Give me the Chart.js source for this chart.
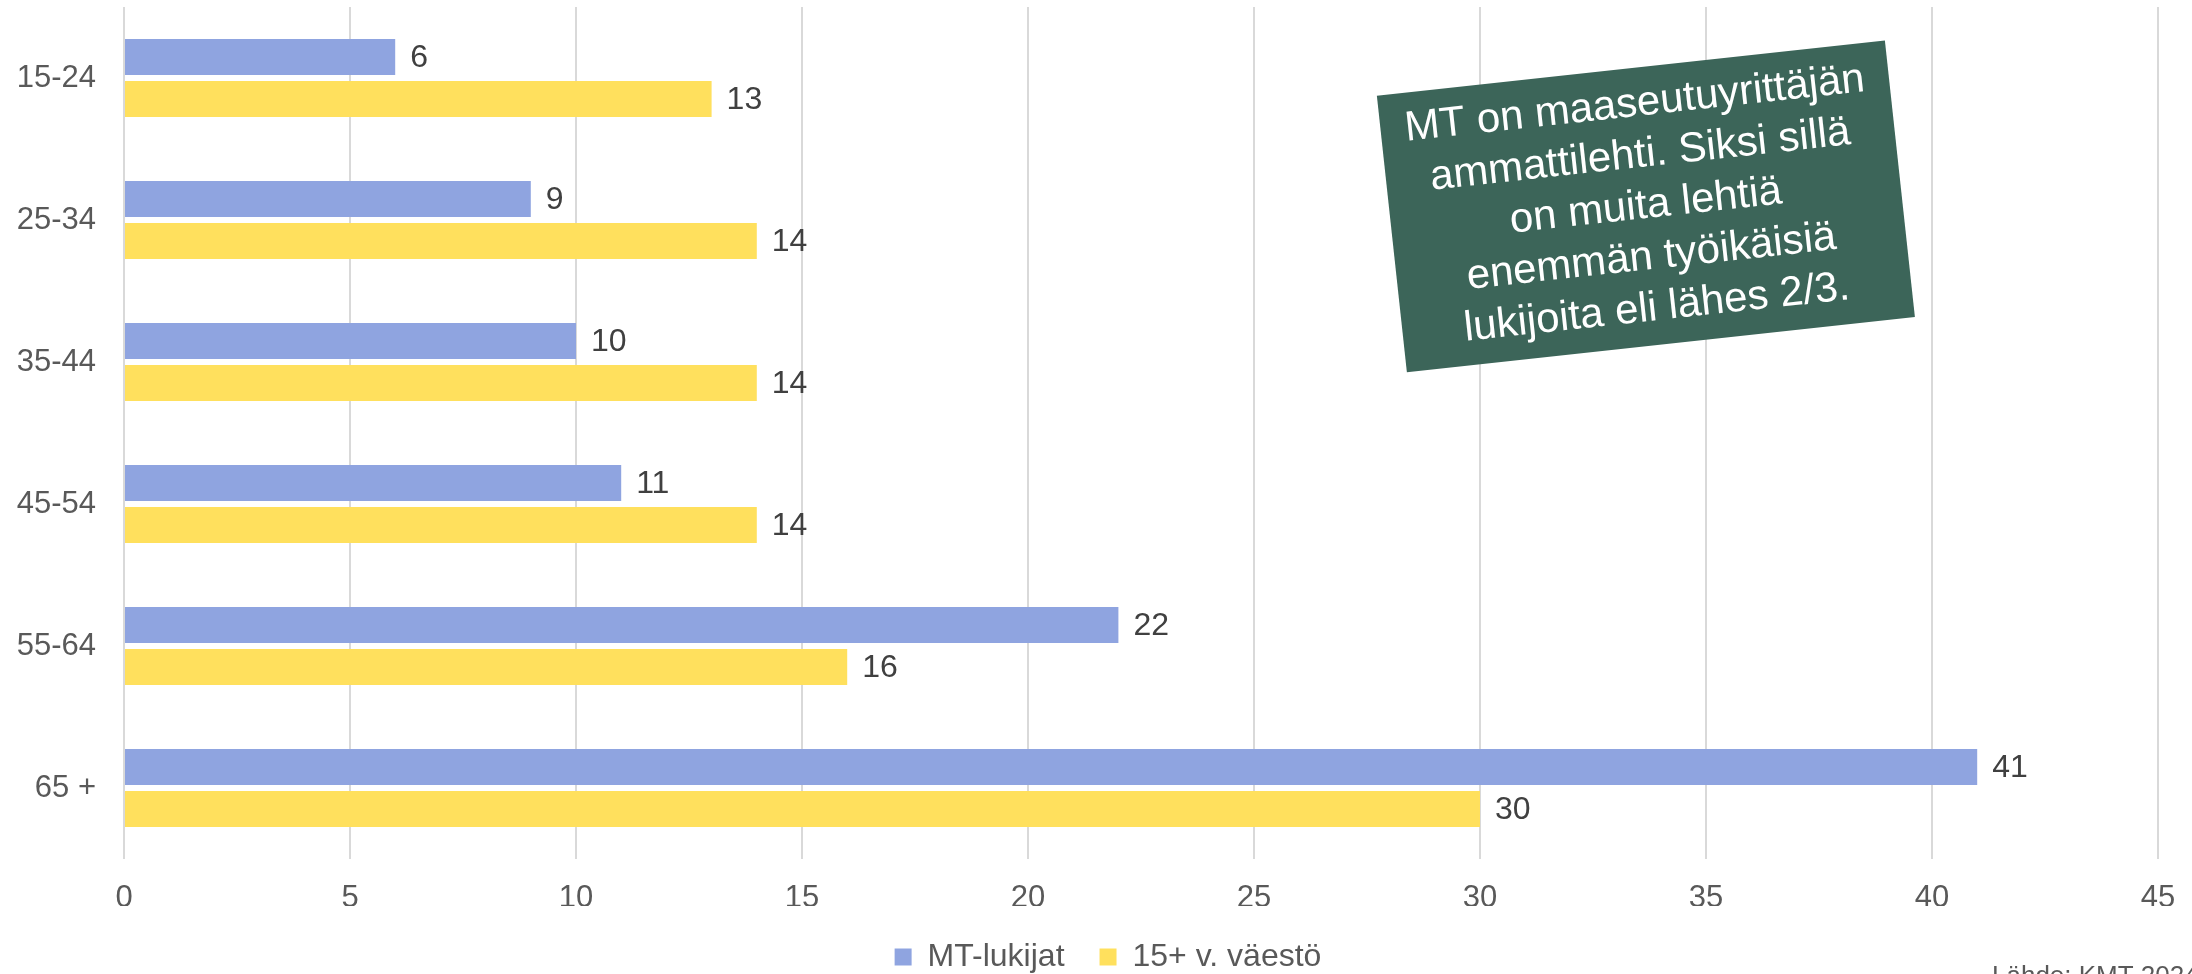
<!DOCTYPE html>
<html>
<head>
<meta charset="utf-8">
<style>
  html, body { margin: 0; padding: 0; background: #ffffff; overflow: hidden; }
  #wrap { width: 2192px; height: 974px; position: relative; }
</style>
<script src="https://cdn.jsdelivr.net/npm/chart.js@4/dist/chart.umd.min.js"></script>
</head>
<body>
<div id="wrap"><canvas id="c" width="2192" height="974"></canvas></div>
<script>
// ---- data ----
const categories = ['15-24', '25-34', '35-44', '45-54', '55-64', '65 +'];
const mtLukijat = [6, 9, 10, 11, 22, 41];
const vaesto15plus = [13, 14, 14, 14, 16, 30];
const seriesNames = ['MT-lukijat', '15+ v. väestö'];
const xTickMin = 0;
const xTickMax = 45;
const xTickStep = 5;
const noteLines = [
  'MT on maaseutuyrittäjän',
  'ammattilehti. Siksi sillä',
  'on muita lehtiä',
  'enemmän työikäisiä',
  'lukijoita eli lähes 2/3.'
];
const sourceText = 'Lähde: KMT 2024';

// ---- styles ----
const FONT = "'Liberation Sans', Arial, sans-serif";
const BLUE = '#8FA4E0';
const YELLOW = '#FFE05D';
const NOTE_BG = '#3C6559';
const TICK_COLOR = '#595959';
const LABEL_COLOR = '#404040';

Chart.defaults.font.family = FONT;
Chart.defaults.font.size = 31;
Chart.defaults.color = TICK_COLOR;

const valueLabels = {
  id: 'valueLabels',
  afterDatasetsDraw(chart) {
    const ctx = chart.ctx;
    ctx.save();
    ctx.font = '32px ' + FONT;
    ctx.fillStyle = LABEL_COLOR;
    ctx.textAlign = 'left';
    ctx.textBaseline = 'middle';
    chart.data.datasets.forEach((ds, di) => {
      const meta = chart.getDatasetMeta(di);
      meta.data.forEach((el, i) => {
        ctx.fillText(String(ds.data[i]), el.x + 15, el.y + 1);
      });
    });
    ctx.restore();
  }
};

const legendShift = {
  id: 'legendShift',
  afterLayout(chart) {
    const lg = chart.legend;
    if (lg) { lg.left += 29; lg.right += 29; }
  }
};

const noteBox = {
  id: 'noteBox',
  afterDraw(chart) {
    const ctx = chart.ctx;
    const xs = chart.scales.x;
    const area = chart.chartArea;
    const cx = xs.getPixelForValue(33.67);
    const cy = area.top + (area.bottom - area.top) * 0.234;
    const w = 511, h = 278;
    ctx.save();
    ctx.translate(cx, cy);
    ctx.rotate(-6.2 * Math.PI / 180);
    ctx.fillStyle = NOTE_BG;
    ctx.fillRect(-w / 2, -h / 2, w, h);
    ctx.fillStyle = '#ffffff';
    ctx.font = '42px ' + FONT;
    ctx.textAlign = 'center';
    ctx.textBaseline = 'middle';
    const lh = 51.3;
    noteLines.forEach((t, i) => {
      ctx.fillText(t, 0, (i - (noteLines.length - 1) / 2) * lh);
    });
    ctx.restore();

    // source text (bottom-right, partly cut by canvas edge)
    ctx.save();
    ctx.font = '26px ' + FONT;
    ctx.fillStyle = TICK_COLOR;
    ctx.textAlign = 'left';
    ctx.textBaseline = 'alphabetic';
    ctx.fillText(sourceText, 1992, 984);
    ctx.restore();
  }
};

new Chart(document.getElementById('c'), {
  type: 'bar',
  data: {
    labels: categories,
    datasets: [
      {
        label: seriesNames[0],
        data: mtLukijat,
        backgroundColor: BLUE,
        categoryPercentage: 0.592,
        barPercentage: 0.857
      },
      {
        label: seriesNames[1],
        data: vaesto15plus,
        backgroundColor: YELLOW,
        categoryPercentage: 0.592,
        barPercentage: 0.857
      }
    ]
  },
  options: {
    indexAxis: 'y',
    responsive: false,
    animation: false,
    devicePixelRatio: 1,
    layout: { padding: { top: 7, left: 0, right: 34, bottom: -9 } },
    plugins: {
      legend: {
        position: 'bottom',
        labels: {
          boxWidth: 17,
          boxHeight: 17,
          padding: 35,
          color: TICK_COLOR,
          font: { size: 32 }
        }
      },
      tooltip: { enabled: false },
      title: { display: false }
    },
    scales: {
      x: {
        type: 'linear',
        min: xTickMin,
        max: xTickMax,
        ticks: { stepSize: xTickStep, padding: 21, color: TICK_COLOR, font: { size: 31 } },
        grid: { color: '#D9D9D9', lineWidth: 2, drawTicks: false },
        border: { display: false },
        afterFit(s) { s.height = 47; s.paddingLeft = 0; s.paddingRight = 0; }
      },
      y: {
        type: 'category',
        ticks: { padding: 28, color: TICK_COLOR, font: { size: 31 } },
        grid: { display: false, drawTicks: false },
        border: { display: false },
        afterFit(s) { s.width = 124; s.paddingTop = 0; s.paddingBottom = 0; }
      }
    }
  },
  plugins: [valueLabels, noteBox, legendShift]
});
</script>
</body>
</html>
